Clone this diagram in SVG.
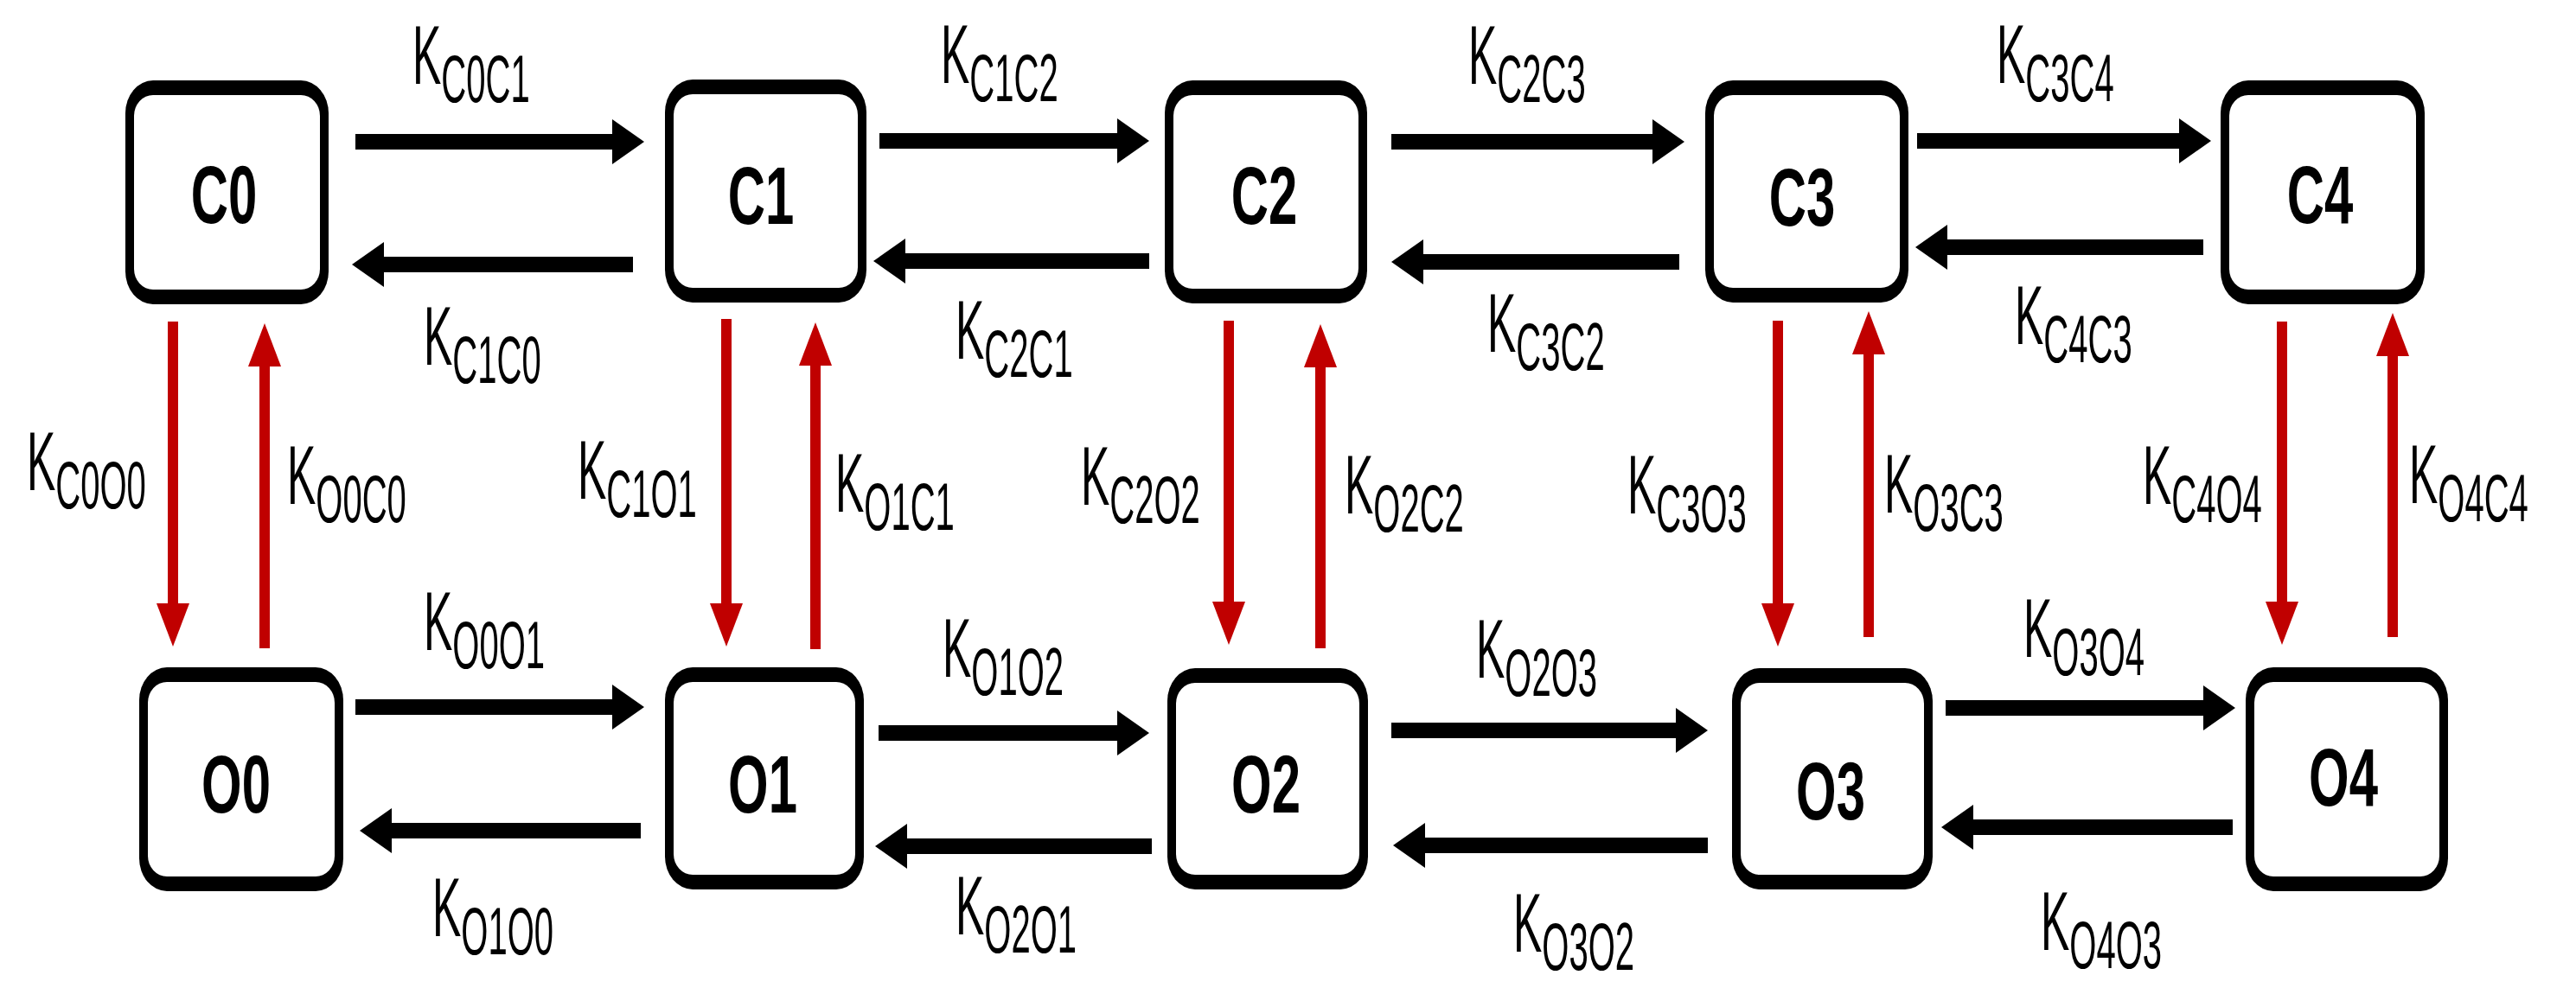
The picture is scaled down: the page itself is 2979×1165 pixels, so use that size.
<svg xmlns="http://www.w3.org/2000/svg" width="2979" height="1165" viewBox="0 0 2979 1165">
<style>
.outer{fill:#000}
.inner{fill:#fff}
.nt{font-family:"Liberation Sans",Arial,sans-serif;font-weight:bold;font-size:95px;fill:#000;text-anchor:middle}
.lbl{font-family:"Liberation Sans",Arial,sans-serif;font-size:96px;fill:#000}
.sub{font-size:77px}
.blk{stroke:#000;stroke-width:18;fill:none;marker-end:url(#hb)}
.red{stroke:#c00000;stroke-width:12;fill:none;marker-end:url(#hr)}
</style>
<defs>
<marker id="hb" markerUnits="userSpaceOnUse" viewBox="0 0 37 52" markerWidth="37" markerHeight="52" refX="2" refY="26" orient="auto">
<path d="M0,0 L37,26 L0,52 Z" fill="#000"/>
</marker>
<marker id="hr" markerUnits="userSpaceOnUse" viewBox="0 0 50 38" markerWidth="50" markerHeight="38" refX="2" refY="19" orient="auto">
<path d="M0,0 L50,19 L0,38 Z" fill="#c00000"/>
</marker>
</defs>
<rect width="2979" height="1165" fill="#fff"/>

<g id="connectors">
<!-- top forward -->
<line class="blk" x1="411" y1="164" x2="710" y2="164"/>
<line class="blk" x1="1017" y1="163" x2="1294" y2="163"/>
<line class="blk" x1="1609" y1="164" x2="1913" y2="164"/>
<line class="blk" x1="2217" y1="163" x2="2522" y2="163"/>
<!-- top back -->
<line class="blk" x1="732" y1="306" x2="442" y2="306"/>
<line class="blk" x1="1329" y1="302" x2="1045" y2="302"/>
<line class="blk" x1="1942" y1="303" x2="1644" y2="303"/>
<line class="blk" x1="2548" y1="286" x2="2250" y2="286"/>
<!-- bottom forward -->
<line class="blk" x1="411" y1="818" x2="710" y2="818"/>
<line class="blk" x1="1016" y1="848" x2="1294" y2="848"/>
<line class="blk" x1="1609" y1="845" x2="1940" y2="845"/>
<line class="blk" x1="2250" y1="819" x2="2550" y2="819"/>
<!-- bottom back -->
<line class="blk" x1="741" y1="961" x2="451" y2="961"/>
<line class="blk" x1="1332" y1="979" x2="1047" y2="979"/>
<line class="blk" x1="1975" y1="978" x2="1646" y2="978"/>
<line class="blk" x1="2582" y1="957" x2="2280" y2="957"/>
<!-- red vertical -->
<line class="red" x1="200" y1="372" x2="200" y2="700"/>
<line class="red" x1="306" y1="750" x2="306" y2="422"/>
<line class="red" x1="840" y1="369" x2="840" y2="700"/>
<line class="red" x1="943" y1="751" x2="943" y2="421"/>
<line class="red" x1="1421" y1="371" x2="1421" y2="698"/>
<line class="red" x1="1527" y1="750" x2="1527" y2="423"/>
<line class="red" x1="2056" y1="371" x2="2056" y2="700"/>
<line class="red" x1="2161" y1="737" x2="2161" y2="408"/>
<line class="red" x1="2639" y1="372" x2="2639" y2="698"/>
<line class="red" x1="2767" y1="737" x2="2767" y2="410"/>
</g>

<g id="labels">
<text class="lbl" transform="translate(477,97) scale(0.52,1)">K<tspan class="sub" dy="21">C0C1</tspan></text>
<text class="lbl" transform="translate(1088,96) scale(0.52,1)">K<tspan class="sub" dy="21">C1C2</tspan></text>
<text class="lbl" transform="translate(1698,97) scale(0.52,1)">K<tspan class="sub" dy="21">C2C3</tspan></text>
<text class="lbl" transform="translate(2309,96) scale(0.52,1)">K<tspan class="sub" dy="21">C3C4</tspan></text>
<text class="lbl" transform="translate(490,422) scale(0.52,1)">K<tspan class="sub" dy="21">C1C0</tspan></text>
<text class="lbl" transform="translate(1105,415) scale(0.52,1)">K<tspan class="sub" dy="21">C2C1</tspan></text>
<text class="lbl" transform="translate(1720,407) scale(0.52,1)">K<tspan class="sub" dy="21">C3C2</tspan></text>
<text class="lbl" transform="translate(2330,398) scale(0.52,1)">K<tspan class="sub" dy="21">C4C3</tspan></text>
<text class="lbl" transform="translate(31,567) scale(0.52,1)">K<tspan class="sub" dy="21">C0O0</tspan></text>
<text class="lbl" transform="translate(332,583) scale(0.52,1)">K<tspan class="sub" dy="21">O0C0</tspan></text>
<text class="lbl" transform="translate(668,577) scale(0.52,1)">K<tspan class="sub" dy="21">C1O1</tspan></text>
<text class="lbl" transform="translate(966,592) scale(0.52,1)">K<tspan class="sub" dy="21">O1C1</tspan></text>
<text class="lbl" transform="translate(1250,584) scale(0.52,1)">K<tspan class="sub" dy="21">C2O2</tspan></text>
<text class="lbl" transform="translate(1555,594) scale(0.52,1)">K<tspan class="sub" dy="21">O2C2</tspan></text>
<text class="lbl" transform="translate(1882,594) scale(0.52,1)">K<tspan class="sub" dy="21">C3O3</tspan></text>
<text class="lbl" transform="translate(2179,593) scale(0.52,1)">K<tspan class="sub" dy="21">O3C3</tspan></text>
<text class="lbl" transform="translate(2478,583) scale(0.52,1)">K<tspan class="sub" dy="21">C4O4</tspan></text>
<text class="lbl" transform="translate(2786,582) scale(0.52,1)">K<tspan class="sub" dy="21">O4C4</tspan></text>
<text class="lbl" transform="translate(490,752) scale(0.52,1)">K<tspan class="sub" dy="21">O0O1</tspan></text>
<text class="lbl" transform="translate(1090,783) scale(0.52,1)">K<tspan class="sub" dy="21">O1O2</tspan></text>
<text class="lbl" transform="translate(1707,784) scale(0.52,1)">K<tspan class="sub" dy="21">O2O3</tspan></text>
<text class="lbl" transform="translate(2340,760) scale(0.52,1)">K<tspan class="sub" dy="21">O3O4</tspan></text>
<text class="lbl" transform="translate(500,1083) scale(0.52,1)">K<tspan class="sub" dy="21">O1O0</tspan></text>
<text class="lbl" transform="translate(1105,1081) scale(0.52,1)">K<tspan class="sub" dy="21">O2O1</tspan></text>
<text class="lbl" transform="translate(1750,1101) scale(0.52,1)">K<tspan class="sub" dy="21">O3O2</tspan></text>
<text class="lbl" transform="translate(2360,1099) scale(0.52,1)">K<tspan class="sub" dy="21">O4O3</tspan></text>
</g>

<g id="C0"><rect class="outer" x="145" y="93" width="235" height="259" rx="32" ry="38"/><rect class="inner" x="155" y="110" width="215" height="225" rx="22" ry="24"/><text class="nt" transform="translate(259,258) scale(0.63,1)">C0</text></g>
<g id="C1"><rect class="outer" x="769" y="92" width="233" height="258" rx="32" ry="38"/><rect class="inner" x="779" y="109" width="213" height="224" rx="22" ry="24"/><text class="nt" transform="translate(880,259) scale(0.63,1)">C1</text></g>
<g id="C2"><rect class="outer" x="1347" y="93" width="234" height="258" rx="32" ry="38"/><rect class="inner" x="1357" y="110" width="214" height="224" rx="22" ry="24"/><text class="nt" transform="translate(1462,259) scale(0.63,1)">C2</text></g>
<g id="C3"><rect class="outer" x="1972" y="93" width="235" height="257" rx="32" ry="38"/><rect class="inner" x="1982" y="110" width="215" height="223" rx="22" ry="24"/><text class="nt" transform="translate(2084,261) scale(0.63,1)">C3</text></g>
<g id="C4"><rect class="outer" x="2568" y="93" width="236" height="259" rx="32" ry="38"/><rect class="inner" x="2578" y="110" width="216" height="225" rx="22" ry="24"/><text class="nt" transform="translate(2683,258) scale(0.63,1)">C4</text></g>
<g id="O0"><rect class="outer" x="161" y="772" width="236" height="259" rx="32" ry="38"/><rect class="inner" x="171" y="789" width="216" height="225" rx="22" ry="24"/><text class="nt" transform="translate(273,940) scale(0.63,1)">O0</text></g>
<g id="O1"><rect class="outer" x="769" y="772" width="230" height="257" rx="32" ry="38"/><rect class="inner" x="779" y="789" width="210" height="223" rx="22" ry="24"/><text class="nt" transform="translate(882,940) scale(0.63,1)">O1</text></g>
<g id="O2"><rect class="outer" x="1350" y="773" width="232" height="256" rx="32" ry="38"/><rect class="inner" x="1360" y="790" width="212" height="222" rx="22" ry="24"/><text class="nt" transform="translate(1464,940) scale(0.63,1)">O2</text></g>
<g id="O3"><rect class="outer" x="2003" y="773" width="232" height="256" rx="32" ry="38"/><rect class="inner" x="2013" y="790" width="212" height="222" rx="22" ry="24"/><text class="nt" transform="translate(2117,948) scale(0.63,1)">O3</text></g>
<g id="O4"><rect class="outer" x="2597" y="772" width="234" height="259" rx="32" ry="38"/><rect class="inner" x="2607" y="789" width="214" height="225" rx="22" ry="24"/><text class="nt" transform="translate(2710,932) scale(0.63,1)">O4</text></g>
</svg>
